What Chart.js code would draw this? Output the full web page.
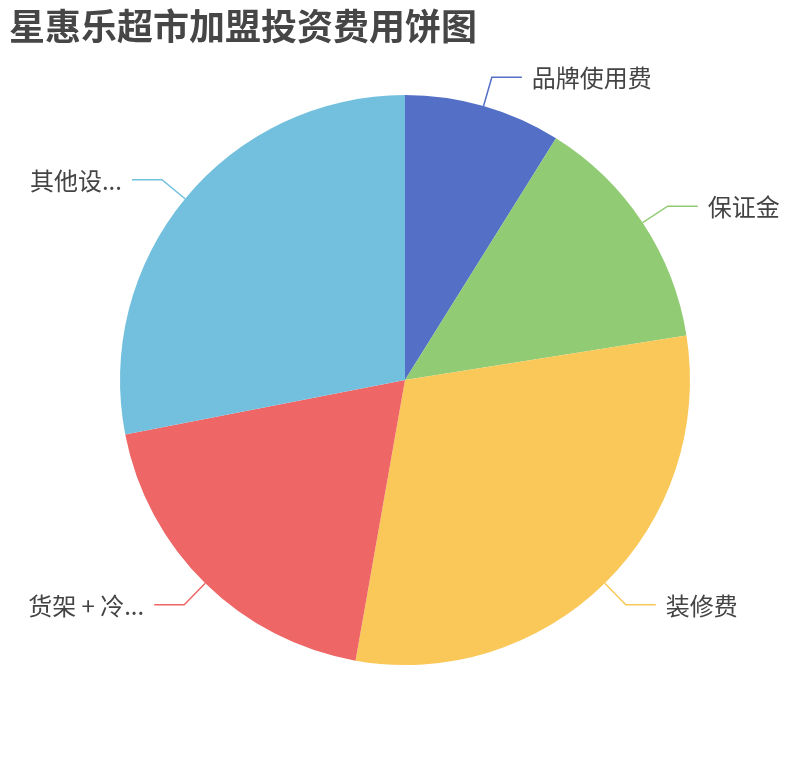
<!DOCTYPE html>
<html>
<head>
<meta charset="utf-8">
<script src="https://cdn.jsdelivr.net/npm/chart.js@4.4.1/dist/chart.umd.min.js"></script>
<style>
  body { margin: 0; background: #fff; }
  canvas { display: block; }
</style>
</head>
<body>
<canvas id="pieChart" width="810" height="760"></canvas>
<script>
const chartTitle = '星惠乐超市加盟投资费用饼图';
const categories = ['品牌使用费', '保证金', '装修费', '货架 + 冷柜设备', '其他设备及开支'];
const costs = [3.2, 4.9, 10.9, 6.9, 10.1];   // 万元
const colors = ['#5470c6', '#91cc75', '#fac858', '#ee6666', '#73c0de'];

const FONT = '"Noto Sans CJK SC", "Noto Sans", sans-serif';

// cut a label with "..." so it fits in maxW
function fitText(ctx, text, maxW) {
    if (ctx.measureText(text).width <= maxW) return text;
    let s = text;
    while (s.length > 1 && ctx.measureText(s + '...').width > maxW) s = s.slice(0, -1);
    return s + '...';
}

const pieLabels = {
    id: 'pieLabels',
    afterDraw(chart) {
        const ctx = chart.ctx;
        ctx.save();

        ctx.font = 'bold 36px ' + FONT;
        ctx.fillStyle = '#464646';
        ctx.textAlign = 'left';
        ctx.textBaseline = 'middle';
        ctx.fillText(chartTitle, 9, 26);

        ctx.font = '24px ' + FONT;
        chart.getDatasetMeta(0).data.forEach((arc, i) => {
            const p = arc.getProps(['x', 'y', 'startAngle', 'endAngle', 'outerRadius'], true);
            const mid = (p.startAngle + p.endAngle) / 2;
            const c = Math.cos(mid), s = Math.sin(mid);
            const r = p.outerRadius;
            const x0 = p.x + c * r, y0 = p.y + s * r;
            const x1 = p.x + c * (r + 30), y1 = p.y + s * (r + 30);
            const dir = c >= 0 ? 1 : -1;
            const x2 = x1 + dir * 30;

            ctx.strokeStyle = colors[i];
            ctx.lineWidth = 1.5;
            ctx.beginPath();
            ctx.moveTo(x0, y0);
            ctx.lineTo(x1, y1);
            ctx.lineTo(x2, y1);
            ctx.stroke();

            const tx = x2 + dir * 10;
            const room = dir > 0 ? chart.width - tx - 20 : tx - 20;
            ctx.fillStyle = '#444';
            ctx.textAlign = dir > 0 ? 'left' : 'right';
            ctx.fillText(fitText(ctx, categories[i], room), tx, y1 + 1);
        });
        ctx.restore();
    }
};

new Chart(document.getElementById('pieChart'), {
    type: 'pie',
    data: {
        labels: categories,
        datasets: [{
            data: costs,
            backgroundColor: colors,
            borderWidth: 0
        }]
    },
    options: {
        responsive: false,
        animation: false,
        layout: {
            padding: { left: 120, right: 120, top: 95, bottom: 95 }
        },
        plugins: {
            legend: { display: false },
            tooltip: { enabled: false }
        }
    },
    plugins: [pieLabels]
});
</script>
</body>
</html>
